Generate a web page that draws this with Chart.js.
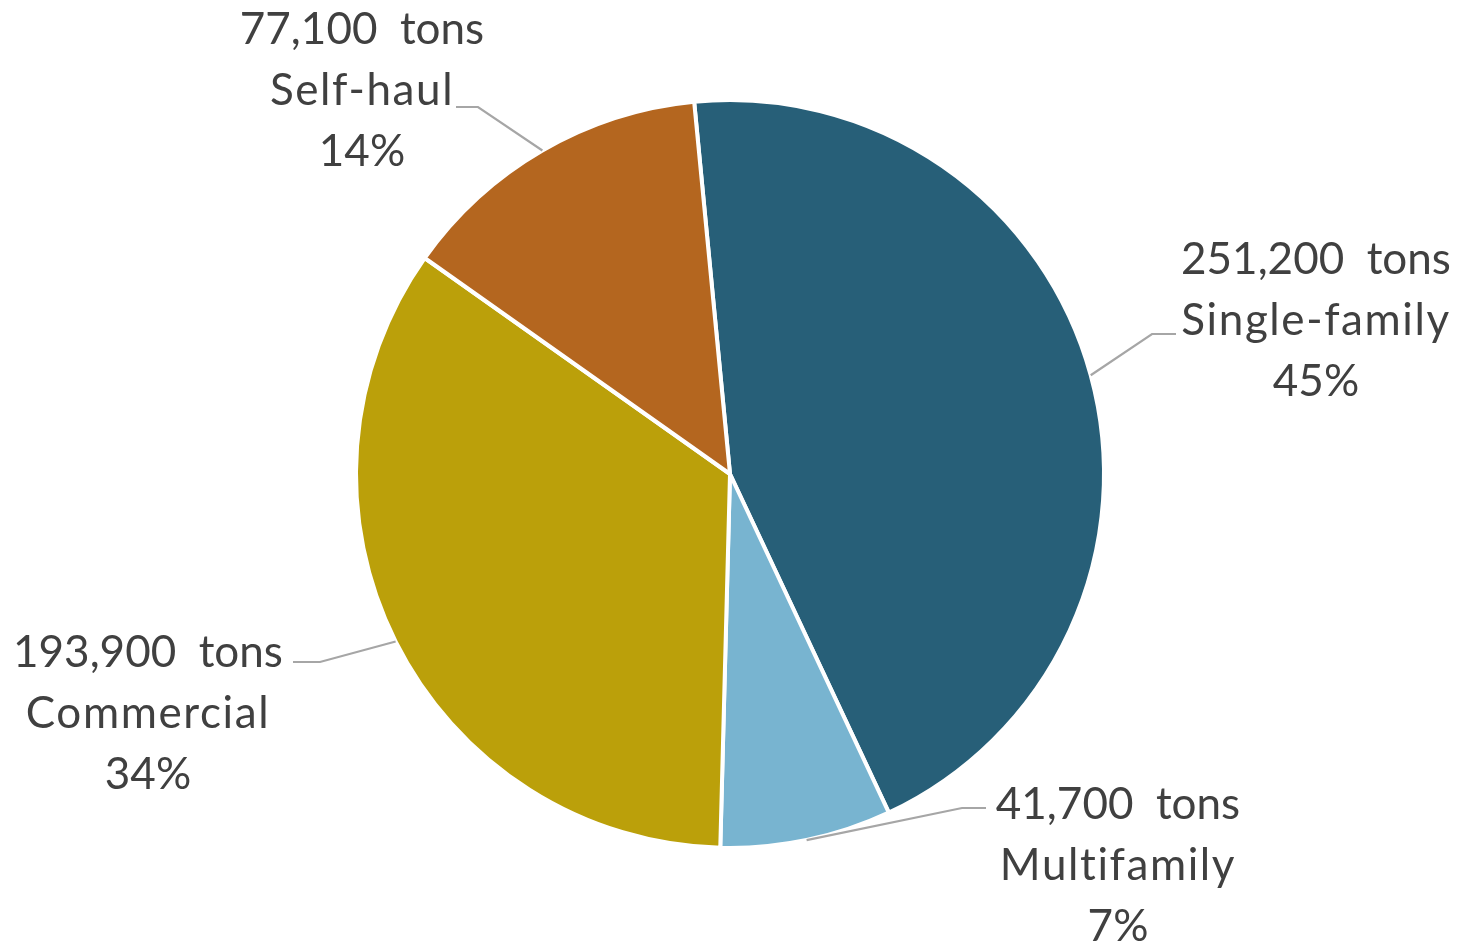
<!DOCTYPE html>
<html>
<head>
<meta charset="utf-8">
<script src="https://cdn.jsdelivr.net/npm/chart.js@4.4.1/dist/chart.umd.min.js"></script>
<style>
  html, body { margin: 0; padding: 0; background: #fff; }
  #wrap { width: 1473px; height: 942px; position: relative; }
</style>
</head>
<body>
<div id="wrap"><canvas id="pieChart"></canvas></div>
<script>
  const categories = ['Single-family', 'Multifamily', 'Commercial', 'Self-haul'];
  const tons = [251200, 41700, 193900, 77100];
  const colors = ['#275F78', '#78B4D0', '#BBA00A', '#B4661F'];

  // where each callout sits: text centre x, first line centre y, leader elbow and end
  const callouts = [
    { x: 1316, y: 260, elbowX: 1152, endX: 1176, lineY: 334 },
    { x: 1118, y: 805, elbowX: 962, endX: 986, lineY: 808 },
    { x: 148, y: 653, elbowX: 320, endX: 293, lineY: 662 },
    { x: 362, y: 30, elbowX: 478, endX: 456, lineY: 107 }
  ];

  const total = tons.reduce((a, b) => a + b, 0);

  const calloutPlugin = {
    id: 'callouts',
    afterDraw(chart) {
      const ctx = chart.ctx;
      const meta = chart.getDatasetMeta(0);
      ctx.save();
      meta.data.forEach((arc, i) => {
        const p = arc.getProps(['x', 'y', 'startAngle', 'endAngle', 'outerRadius'], true);
        const mid = (p.startAngle + p.endAngle) / 2;
        const ax = p.x + Math.cos(mid) * p.outerRadius;
        const ay = p.y + Math.sin(mid) * p.outerRadius;
        const c = callouts[i];

        ctx.strokeStyle = '#A6A6A6';
        ctx.lineWidth = 2.2;
        ctx.beginPath();
        ctx.moveTo(ax, ay);
        ctx.lineTo(c.elbowX, c.lineY);
        ctx.lineTo(c.endX, c.lineY);
        ctx.stroke();

        const lines = [
          tons[i].toLocaleString('en-US') + '  tons',
          categories[i],
          Math.round(tons[i] / total * 100) + '%'
        ];
        ctx.fillStyle = '#404040';
        ctx.font = '44px Lato';
        ctx.textAlign = 'center';
        ctx.textBaseline = 'middle';
        lines.forEach((t, k) => {
          ctx.letterSpacing = k === 1 ? '1.6px' : '0px';
          ctx.fillText(t, c.x, c.y + k * 61);
        });
        ctx.letterSpacing = '0px';
      });
      ctx.restore();
    }
  };

  new Chart(document.getElementById('pieChart'), {
    type: 'pie',
    data: {
      labels: categories,
      datasets: [{
        data: tons,
        backgroundColor: colors,
        borderColor: '#ffffff',
        borderWidth: 4
      }]
    },
    options: {
      responsive: true,
      maintainAspectRatio: false,
      animation: false,
      rotation: -5.5,
      layout: { padding: { top: 98, bottom: 92, left: 354, right: 367 } },
      plugins: {
        legend: { display: false },
        tooltip: { enabled: false }
      }
    },
    plugins: [calloutPlugin]
  });
</script>
</body>
</html>
